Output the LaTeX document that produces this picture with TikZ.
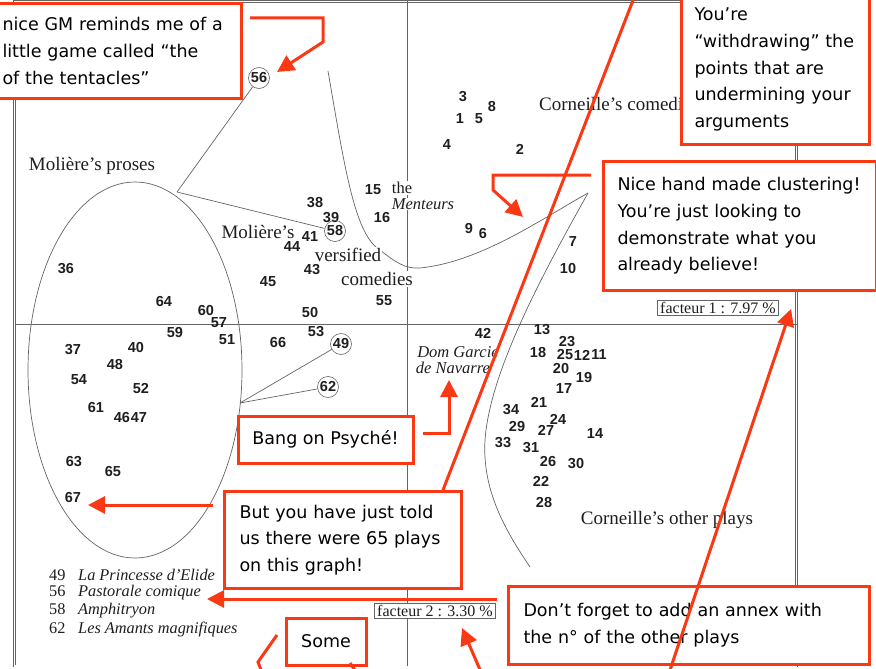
\documentclass[tikz,border=0pt]{standalone}
\usepackage{fontspec}
\setmainfont{Liberation Serif}
\newfontfamily\numfont{Liberation Sans}
\newfontfamily\notefont{DejaVu Sans}
\usetikzlibrary{arrows.meta}
\definecolor{callred}{RGB}{250,56,20}
\definecolor{plotgray}{RGB}{100,100,100}
\definecolor{plotink}{RGB}{30,30,30}
\begin{document}
\begin{tikzpicture}[x=1pt,y=-1pt,
  num/.style={font=\numfont\bfseries\fontsize{14.5}{14.5}\selectfont,text=plotink,inner sep=0pt},
  ringed/.style={num,draw=plotgray,circle,minimum size=21pt,line width=0.6pt},
  lbl/.style={font=\fontsize{19}{19}\selectfont,text=plotink,fill=white,inner sep=1pt},
  ital/.style={font=\itshape\fontsize{16.5}{18}\selectfont,text=plotink,fill=white,inner sep=1pt},
  factor/.style={draw=plotgray,font=\fontsize{16}{16}\selectfont,text=plotink,fill=white,inner xsep=3pt,inner ysep=1.5pt,line width=0.6pt},
  legend/.style={anchor=west,font=\fontsize{16.3}{16.3}\selectfont,text=plotink,inner sep=0pt},
  thin/.style={draw=plotgray,line width=0.7pt},
  note/.style={draw=callred,line width=3pt,fill=white,font=\notefont\fontsize{17.5}{26.7}\selectfont,align=left,anchor=north west},
  redline/.style={draw=callred,line width=3pt},
  redarrow/.style={redline,-{Triangle[length=17pt,width=17pt]}}]
\useasboundingbox (0,0) rectangle (876,669);
\clip (0,0) rectangle (876,669);
\draw[plotgray,line width=0.6pt,double=white,double distance=1.4pt] (14.5,1.5) rectangle (796.5,666);
\draw[thin] (14.5,324) -- (796.5,324);
\draw[thin] (407,1.5) -- (407,666);
\coordinate (tip) at (588,193);
\draw[thin] (328,71) .. controls (345,170) and (355,235) .. (380,250) .. controls (395,262) and (405,269) .. (420,268) .. controls (480,262) and (540,220) .. (tip);
\draw[thin] (tip) .. controls (545,270) and (490,370) .. (485,440) .. controls (482,490) and (505,530) .. (530,567);
\draw[thin] (135,370) ellipse [x radius=107pt, y radius=188pt];
\foreach \n/\x/\y in {1/460/119, 2/520/149, 3/463/97, 4/447/145, 5/479/119, 6/483/234, 7/573/242,
  8/492/107, 9/469/229, 10/568/269, 11/599/355, 12/582/355, 13/542/330, 14/595/434, 15/373/190,
  16/382/218, 17/564/389, 18/538/353, 19/584/378, 20/561/369, 21/539/402, 22/541/481, 23/567/342,
  24/558/419, 25/565/355, 26/548/462, 27/546/430, 28/544/503, 29/517/427, 30/576/464, 31/531/448,
  33/503/443, 34/511/410, 36/66/269, 37/73/350, 38/315/203, 39/331/218, 40/136/348, 41/310/237,
  42/483/333, 43/312/270, 44/292/247, 45/268/282, 46/122/418, 47/139/418, 48/115/365, 50/310/313,
  51/227/340, 52/141/389, 53/316/332, 54/79/380, 55/384/301, 57/219/323, 59/175/333, 60/206/311,
  61/96/408, 63/74/462, 64/164/302, 65/113/472, 66/278/343, 67/73/498}
  \node[num] (p\n) at (\x,\y) {\n};
\foreach \n/\x/\y in {49/341/344, 56/259/78, 58/335/231, 62/328/387}
  \node[ringed] (p\n) at (\x,\y) {\n};
\coordinate (pj) at (177,192);
\coordinate (pk) at (240,403);
\draw[thin] (pj) -- (p56);
\draw[thin] (pj) -- (p58);
\draw[thin] (pk) -- (p49);
\draw[thin] (pk) -- (p62);
\node[lbl] (mprose) at (92,166) {Molière's proses};
\node[lbl] (mvers) at (258,232) {Molière's};
\node[lbl] (vers) at (348,255) {versified};
\node[lbl] (comed) at (377,279) {comedies};
\node[lbl,font=\fontsize{16.5}{16.5}\selectfont] (the) at (402,188) {the};
\node[ital] (ment) at (423,204) {Menteurs};
\node[lbl,anchor=west] (ccom) at (538,104) {Corneille's comedies};
\node[ital] (dom) at (458,352) {Dom Garcie};
\node[ital] (nav) at (453,368) {de Navarre};
\node[lbl] (cother) at (667,520) {Corneille's other plays};
\node[factor] (f1) at (718,308) {facteur 1 : 7.97 \%};
\node[factor] (f2) at (435,611) {facteur 2 : 3.30 \%};
\foreach \n/\t [count=\i] in {49/La Princesse d'Elide, 56/Pastorale comique, 58/Amphitryon, 62/Les Amants magnifiques}
  \node[legend] (leg\n) at (49,557+18*\i) {\makebox[29pt][l]{\n}\textit{\t}};
\node[note,inner xsep=5pt,text width=234pt,minimum height=95pt] (gm) at (-4,2)
  {nice GM reminds me of a\\little game called “the\\of the tentacles”};
\node[note,inner xsep=13pt,text width=162pt,minimum height=150pt] (wd) at (680,-7)
  {You’re\\“withdrawing” the\\points that are\\undermining your\\arguments};
\node[note,inner xsep=14pt,text width=245pt,minimum height=129pt] (nc) at (602,160)
  {Nice hand made clustering!\\You’re just looking to\\demonstrate what you\\already believe!};
\node[note,anchor=center,inner sep=0pt,minimum width=175pt,minimum height=47pt] (bang) at (325.5,439.5) {Bang on Psyché!};
\node[note,inner xsep=15pt,text width=207pt,minimum height=97pt] (but) at (223,490)
  {But you have just told\\us there were 65 plays\\on this graph!};
\node[note,inner xsep=15pt,text width=331pt,minimum height=78pt] (df) at (507,585)
  {Don’t forget to add an annex with\\the n° of the other plays};
\node[note,anchor=center,inner sep=0pt,minimum width=80pt,minimum height=47pt] (some) at (326,641.5) {Some};
\coordinate (gmA) at (250,18);
\coordinate (gmB) at (323,18);
\coordinate (gmC) at (323,42);
\coordinate (gmD) at (277,72);
\draw[redarrow] (gmA) -- (gmB) -- (gmC) -- (gmD);
\coordinate (ncA) at (591,175);
\coordinate (ncB) at (493,175);
\coordinate (ncC) at (493,190);
\coordinate (ncD) at (523,217);
\draw[redarrow] (ncA) -- (ncB) -- (ncC) -- (ncD);
\coordinate (bgA) at (423,433);
\coordinate (bgB) at (449,433);
\coordinate (bgC) at (449,380);
\draw[redarrow] (bgA) -- (bgB) -- (bgC);
\coordinate (btA) at (213,505);
\coordinate (btB) at (88,505);
\draw[redarrow] (btA) -- (btB);
\coordinate (dfA) at (497,599);
\coordinate (dfB) at (207,599);
\draw[redarrow] (dfA) -- (dfB);
\coordinate (topA) at (637,-10);
\coordinate (topB) at (443,490);
\draw[redline] (topA) -- (topB);
\coordinate (f1A) at (667,679);
\coordinate (f1B) at (791,309);
\draw[redarrow] (f1A) -- (f1B);
\coordinate (f2A) at (484,679);
\coordinate (f2B) at (462,628);
\draw[redarrow] (f2A) -- (f2B);
\coordinate (smA) at (277,635);
\coordinate (smB) at (258,662);
\coordinate (smC) at (263,675);
\draw[redline] (smA) -- (smB) -- (smC);
\coordinate (smD) at (350,663);
\coordinate (smE) at (357,673);
\draw[redline] (smD) -- (smE);
\end{tikzpicture}
\end{document}
